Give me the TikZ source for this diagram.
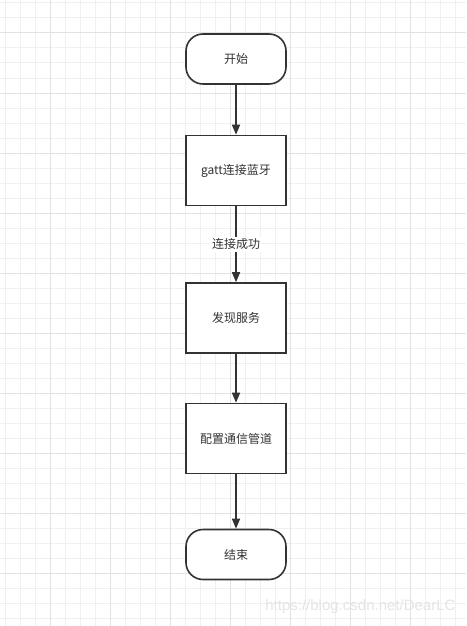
\documentclass[tikz,border=0pt]{standalone}
\usepackage{fontspec}
\setmainfont{Noto Sans CJK SC}
\newfontfamily\wmfont{Liberation Sans}
\usetikzlibrary{arrows.meta}
\definecolor{minorgrid}{HTML}{F0F0F0}
\definecolor{majorgrid}{HTML}{E2E2E2}
\definecolor{ink}{HTML}{333333}
\tikzset{
  base/.style={draw=ink, line width=1.6pt, fill=white, minimum width=100pt, text=ink, font=\fontsize{12}{14}\selectfont, inner sep=0pt},
  term/.style={base, minimum height=50pt, rounded corners=17pt},
  proc/.style={base, minimum height=70pt},
  conn/.style={draw=ink, line width=1.6pt, -{Triangle[length=10pt,width=8pt]}},
  elabel/.style={fill=white, text=ink, font=\fontsize{12}{14}\selectfont, inner sep=2pt}
}
\begin{document}
\begin{tikzpicture}[x=1pt,y=-1pt]
\useasboundingbox (0,0) rectangle (466,626);
\fill[white] (0,0) rectangle (466,626);
% minor grid
\foreach \x in {5,20,...,465} \draw[minorgrid, line width=1pt] (\x,0) -- (\x,626);
\foreach \y in {3,18,...,625} \draw[minorgrid, line width=1pt] (0,\y) -- (466,\y);
% major grid
\foreach \x in {50,110,...,465} \draw[majorgrid, line width=1pt] (\x,0) -- (\x,626);
\foreach \y in {33,93,...,625} \draw[majorgrid, line width=1pt] (0,\y) -- (466,\y);

\node[term] (start) at (236,59) {开始};
\node[proc] (gatt) at (236,170.5) {gatt连接蓝牙};
\node[proc] (disc) at (236,318) {发现服务};
\node[proc] (conf) at (236,438.5) {配置通信管道};
\node[term] (end) at (236,554.5) {结束};

\draw[conn] (start) -- (gatt);
\draw[conn] (gatt) -- node[elabel, pos=0.5] (lbl) {连接成功} (disc);
\draw[conn] (disc) -- (conf);
\draw[conn] (conf) -- (end);

\node[text=black!10, font=\wmfont\fontsize{15}{17}\selectfont, anchor=east] (wm) at (459,607) {https://blog.csdn.net/DearLC};
\end{tikzpicture}
\end{document}
